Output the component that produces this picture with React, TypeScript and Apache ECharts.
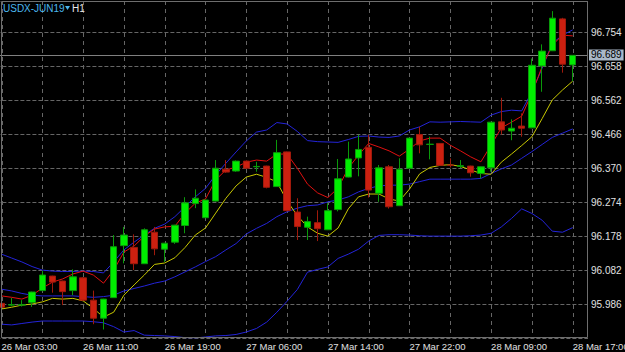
import { useEffect, useRef } from "react";
import * as echarts from "echarts";

const hours26 = ["03:00","04:00","05:00","06:00","07:00","08:00","09:00","10:00","11:00","12:00","13:00","14:00","15:00","16:00","17:00","18:00","19:00","20:00","21:00","22:00","23:00"];
const hours28 = ["03:00","04:00","05:00","06:00","07:00","08:00","09:00","10:00","11:00","12:00","13:00","14:00","15:00","16:00","17:00"];
const categories = [
  ...hours26.map((h) => "26 Mar " + h),
  ...hours26.map((h) => "27 Mar " + h),
  ...hours28.map((h) => "28 Mar " + h),
];

const open = [95.988, 95.983, 95.983, 95.990, 96.024, 96.065, 96.051, 96.024, 96.060, 95.997, 95.946, 96.004, 96.151, 96.146, 96.100, 96.189, 96.141, 96.161, 96.208, 96.270, 96.230, 96.277, 96.367, 96.362, 96.390, 96.374, 96.376, 96.318, 96.416, 96.246, 96.203, 96.216, 96.196, 96.253, 96.345, 96.399, 96.429, 96.299, 96.374, 96.264, 96.370, 96.465, 96.437, 96.440, 96.379, 96.375, 96.376, 96.355, 96.371, 96.501, 96.475, 96.489, 96.484, 96.659, 96.702, 96.792, 96.662];
const close = [95.977, 95.984, 95.984, 96.020, 96.068, 96.048, 96.021, 96.063, 95.997, 95.946, 96.000, 96.148, 96.181, 96.100, 96.196, 96.142, 96.158, 96.209, 96.272, 96.285, 96.280, 96.370, 96.359, 96.390, 96.370, 96.375, 96.316, 96.414, 96.250, 96.205, 96.219, 96.199, 96.250, 96.340, 96.396, 96.423, 96.308, 96.371, 96.261, 96.367, 96.455, 96.436, 96.438, 96.378, 96.378, 96.377, 96.357, 96.374, 96.500, 96.478, 96.483, 96.483, 96.661, 96.701, 96.794, 96.664, 96.689];
const low = [95.975, 95.980, 95.979, 95.978, 96.024, 96.018, 95.983, 96.011, 95.995, 95.929, 95.914, 96.003, 96.101, 96.082, 96.099, 96.124, 96.105, 96.156, 96.186, 96.257, 96.229, 96.276, 96.357, 96.360, 96.368, 96.360, 96.313, 96.317, 96.248, 96.167, 96.167, 96.164, 96.195, 96.248, 96.344, 96.347, 96.287, 96.275, 96.256, 96.263, 96.369, 96.412, 96.395, 96.377, 96.372, 96.370, 96.346, 96.341, 96.360, 96.465, 96.449, 96.459, 96.483, 96.586, 96.701, 96.640, 96.616];
const high = [95.990, 96.003, 95.997, 96.021, 96.080, 96.066, 96.052, 96.084, 96.062, 96.024, 96.001, 96.181, 96.204, 96.183, 96.200, 96.204, 96.159, 96.210, 96.288, 96.310, 96.281, 96.393, 96.393, 96.392, 96.392, 96.388, 96.377, 96.450, 96.417, 96.285, 96.233, 96.251, 96.271, 96.396, 96.445, 96.464, 96.464, 96.379, 96.379, 96.398, 96.456, 96.487, 96.459, 96.441, 96.398, 96.393, 96.377, 96.375, 96.501, 96.569, 96.508, 96.525, 96.680, 96.720, 96.814, 96.795, 96.690];

const maRed = [96.009, 96.005, 96.000, 96.011, 96.031, 96.048, 96.057, 96.071, 96.079, 96.068, 96.045, 96.082, 96.133, 96.150, 96.178, 96.198, 96.204, 96.206, 96.243, 96.271, 96.283, 96.337, 96.365, 96.373, 96.387, 96.393, 96.390, 96.410, 96.410, 96.370, 96.325, 96.300, 96.287, 96.314, 96.370, 96.407, 96.440, 96.430, 96.419, 96.404, 96.424, 96.447, 96.455, 96.455, 96.435, 96.419, 96.402, 96.388, 96.435, 96.484, 96.500, 96.517, 96.582, 96.657, 96.718, 96.746, 96.744];
const maYellow = [95.972, 95.977, 95.983, 95.986, 95.992, 96.002, 96.000, 96.002, 95.995, 95.974, 95.949, 95.963, 96.011, 96.040, 96.068, 96.098, 96.102, 96.117, 96.146, 96.181, 96.201, 96.243, 96.285, 96.320, 96.345, 96.353, 96.344, 96.331, 96.277, 96.236, 96.204, 96.186, 96.178, 96.201, 96.255, 96.289, 96.297, 96.297, 96.283, 96.277, 96.311, 96.354, 96.372, 96.378, 96.380, 96.375, 96.365, 96.355, 96.353, 96.387, 96.410, 96.434, 96.459, 96.510, 96.563, 96.591, 96.616];
const bbUpper = [96.127, 96.116, 96.105, 96.092, 96.082, 96.079, 96.078, 96.078, 96.079, 96.078, 96.074, 96.105, 96.139, 96.161, 96.181, 96.200, 96.212, 96.233, 96.261, 96.289, 96.313, 96.351, 96.384, 96.416, 96.447, 96.472, 96.478, 96.499, 96.495, 96.474, 96.448, 96.445, 96.444, 96.443, 96.451, 96.460, 96.461, 96.458, 96.457, 96.461, 96.478, 96.487, 96.501, 96.500, 96.501, 96.502, 96.501, 96.500, 96.520, 96.530, 96.534, 96.532, 96.586, 96.652, 96.723, 96.746, 96.761];
const bbMiddle = [96.028, 96.023, 96.016, 96.011, 96.009, 96.009, 96.009, 96.009, 96.007, 96.005, 96.007, 96.011, 96.023, 96.030, 96.037, 96.045, 96.051, 96.063, 96.077, 96.091, 96.106, 96.120, 96.139, 96.157, 96.184, 96.200, 96.214, 96.233, 96.247, 96.257, 96.264, 96.266, 96.275, 96.280, 96.289, 96.303, 96.313, 96.320, 96.322, 96.322, 96.325, 96.332, 96.339, 96.339, 96.339, 96.339, 96.339, 96.341, 96.355, 96.368, 96.379, 96.398, 96.417, 96.437, 96.457, 96.469, 96.481];
const bbLower = [95.929, 95.927, 95.931, 95.935, 95.938, 95.938, 95.938, 95.938, 95.938, 95.936, 95.933, 95.922, 95.907, 95.911, 95.898, 95.897, 95.896, 95.894, 95.891, 95.890, 95.893, 95.896, 95.897, 95.900, 95.907, 95.917, 95.935, 95.963, 95.994, 96.027, 96.076, 96.084, 96.091, 96.115, 96.127, 96.141, 96.164, 96.180, 96.182, 96.182, 96.181, 96.179, 96.178, 96.178, 96.178, 96.178, 96.179, 96.181, 96.186, 96.204, 96.228, 96.255, 96.242, 96.223, 96.192, 96.189, 96.202];

const lastPrice = 96.689;
const symbolName = "USDX-JUN19";
const timeframe = "H1";

const Y_MIN = 95.89;
const Y_MAX = 96.8426;
const FONT = "Liberation Sans";
const GRID_COLOR = "#666666";

export default function App() {
  const ref = useRef<HTMLDivElement>(null);
  useEffect(() => {
    const chart = echarts.init(ref.current as HTMLDivElement, null, { renderer: "svg" });
    const candleData = open.map((o, i) => [o, close[i], low[i], high[i]]);
    const xCats = [...categories, ""];
    const vGridIdx = categories.map((_, i) => i).filter((i) => i % 4 === 0);
    const mkLine = (name: string, data: number[], color: string, extra: any = {}) => ({
      type: "line",
      name,
      data,
      symbol: "none",
      showSymbol: false,
      silent: true,
      z: 2,
      lineStyle: { color, width: 1 },
      itemStyle: { color },
      ...extra,
    });
    chart.setOption({
      animation: false,
      backgroundColor: "#000000",
      grid: {
        left: -3.6,
        top: 1,
        width: 591.6,
        height: 337,
        containLabel: false,
        outerBoundsMode: "none",
      },
      xAxis: {
        type: "category",
        data: xCats,
        boundaryGap: true,
        axisLine: { show: false },
        axisTick: { show: false },
        axisLabel: {
          interval: (i: number) => i % 8 === 0 && i < categories.length,
          align: "left",
          color: "#e0e0e0",
          fontSize: 9.5,
          fontFamily: FONT,
          margin: 3,
        },
        splitLine: { show: false },
      },
      yAxis: {
        type: "value",
        position: "right",
        min: Y_MIN,
        max: Y_MAX,
        interval: 0.096,
        axisLine: { show: false },
        axisTick: { show: false },
        axisLabel: {
          formatter: (v: number) => v.toFixed(3),
          showMinLabel: false,
          showMaxLabel: false,
          color: "#e0e0e0",
          fontSize: 10,
          fontFamily: FONT,
          margin: 3,
        },
        splitLine: {
          show: true,
          lineStyle: { color: GRID_COLOR, type: "dashed", width: 1 },
        },
      },
      series: [
        {
          type: "custom",
          name: "vgrid",
          silent: true,
          z: 1,
          data: vGridIdx.map((i) => [i]),
          encode: { x: 0 },
          renderItem: (params: any, api: any) => {
            const idx = api.value(0);
            const top = api.coord([idx, Y_MAX]);
            const bottom = api.coord([idx, Y_MIN]);
            const x = Math.round(top[0]) + 0.5;
            return {
              type: "line",
              shape: { x1: x, y1: top[1], x2: x, y2: bottom[1] },
              style: { stroke: GRID_COLOR, lineWidth: 1, lineDash: [4, 4] },
            };
          },
        },
        mkLine("BB Upper", bbUpper, "#2424d8"),
        mkLine("BB Middle", bbMiddle, "#2424d8", {
          markLine: {
            silent: true,
            z: 1,
            symbol: ["none", "none"],
            animation: false,
            lineStyle: { color: "#808080", type: "solid", width: 1 },
            label: {
              show: true,
              position: "end",
              distance: 1,
              formatter: () => lastPrice.toFixed(3),
              backgroundColor: "#a9b8c8",
              color: "#000000",
              fontSize: 10,
              fontFamily: FONT,
              padding: [1, 2, 0, 2],
            },
            data: [{ yAxis: lastPrice }],
          },
        }),
        mkLine("BB Lower", bbLower, "#2424d8"),
        mkLine("MA Yellow", maYellow, "#c8c800"),
        mkLine("MA Red", maRed, "#e01010"),
        {
          type: "candlestick",
          name: "USDX",
          data: candleData,
          barWidth: 7,
          z: 3,
          silent: true,
          itemStyle: {
            color: "#00ee00",
            color0: "#cc2010",
            borderColor: "#0a9a0a",
            borderColor0: "#a01a0c",
            borderWidth: 1,
          },
        },
      ],
      graphic: [
        {
          type: "rect",
          silent: true,
          z: 100,
          shape: { x: 1.5, y: 1.5, width: 586, height: 336 },
          style: { fill: "none", stroke: "#6e6e6e", lineWidth: 1 },
        },
        {
          type: "text",
          x: 3,
          y: 8,
          z: 101,
          style: { text: symbolName, fill: "#4ab6ec", fontSize: 10, fontFamily: FONT, verticalAlign: "middle" },
        },
        {
          type: "polygon",
          z: 101,
          shape: { points: [[65, 6], [70, 6], [67.5, 10]] },
          style: { fill: "#4ab6ec" },
        },
        {
          type: "text",
          x: 72,
          y: 8,
          z: 101,
          style: { text: timeframe, fill: "#e8e8e8", fontSize: 10, fontFamily: FONT, verticalAlign: "middle" },
        },
      ],
    });
    return () => chart.dispose();
  }, []);
  return (
    <div
      ref={ref}
      style={{ position: "fixed", left: 0, top: 0, width: 625, height: 352, background: "#000" }}
    />
  );
}
